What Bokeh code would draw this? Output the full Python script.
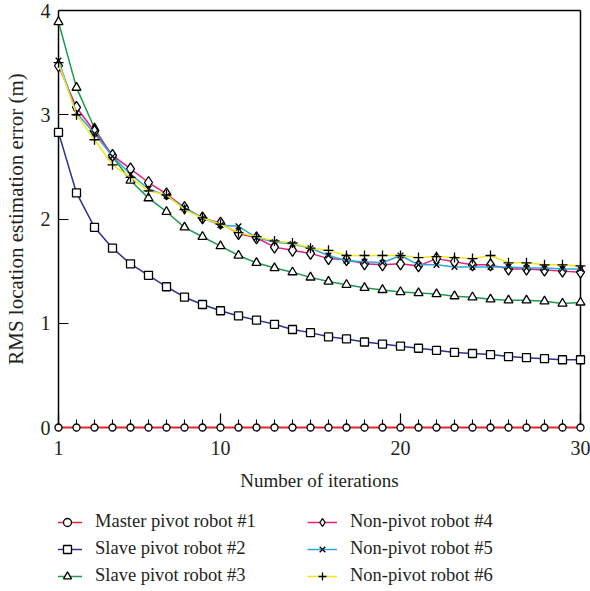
from bokeh.plotting import figure
from bokeh.models import FixedTicker, Legend, LegendItem, Range1d, LinearAxis
from bokeh.layouts import column
from bokeh.embed import file_html
from bokeh.resources import INLINE

iterations = list(range(1, 31))
master1 = [0.0, 0.0, 0.0, 0.0, 0.0, 0.0, 0.0, 0.0, 0.0, 0.0,
           0.0, 0.0, 0.0, 0.0, 0.0, 0.0, 0.0, 0.0, 0.0, 0.0,
           0.0, 0.0, 0.0, 0.0, 0.0, 0.0, 0.0, 0.0, 0.0, 0.0]
slave2 = [2.83, 2.25, 1.92, 1.72, 1.57, 1.46, 1.35, 1.25, 1.18, 1.12,
          1.07, 1.03, 0.99, 0.94, 0.91, 0.87, 0.85, 0.82, 0.80, 0.78,
          0.76, 0.74, 0.72, 0.71, 0.70, 0.68, 0.67, 0.66, 0.65, 0.65]
slave3 = [3.89, 3.26, 2.87, 2.60, 2.37, 2.20, 2.07, 1.92, 1.83, 1.74,
          1.65, 1.58, 1.53, 1.49, 1.44, 1.40, 1.37, 1.34, 1.32, 1.30,
          1.29, 1.28, 1.26, 1.25, 1.23, 1.22, 1.22, 1.21, 1.19, 1.20]
nonpivot4 = [3.47, 3.07, 2.84, 2.61, 2.48, 2.35, 2.24, 2.11, 2.01, 1.96,
             1.86, 1.82, 1.73, 1.70, 1.67, 1.62, 1.61, 1.57, 1.56, 1.57,
             1.55, 1.62, 1.59, 1.56, 1.56, 1.52, 1.52, 1.51, 1.50, 1.49]
nonpivot5 = [3.52, 3.02, 2.82, 2.60, 2.43, 2.29, 2.22, 2.11, 2.01, 1.94,
             1.93, 1.82, 1.78, 1.76, 1.72, 1.65, 1.60, 1.59, 1.58, 1.65,
             1.56, 1.56, 1.54, 1.54, 1.54, 1.54, 1.53, 1.53, 1.52, 1.52]
nonpivot6 = [3.50, 3.00, 2.76, 2.52, 2.40, 2.27, 2.23, 2.09, 2.01, 1.95,
             1.87, 1.83, 1.79, 1.77, 1.72, 1.70, 1.65, 1.65, 1.65, 1.65,
             1.63, 1.64, 1.63, 1.62, 1.65, 1.58, 1.58, 1.56, 1.56, 1.55]

x_ticks = [1, 10, 20, 30]
y_ticks = [0, 1, 2, 3, 4]

series = [
    ("Master pivot robot #1", master1, "#e3262b", "circle", 7, 2.0),
    ("Slave pivot robot #2", slave2, "#2e3192", "square", 8, 1.5),
    ("Slave pivot robot #3", slave3, "#1f9a4c", "triangle", 9, 1.5),
    ("Non-pivot robot #4", nonpivot4, "#ec1c7c", "diamond", 12, 1.5),
    ("Non-pivot robot #5", nonpivot5, "#2aa8dc", "x", 8, 1.5),
    ("Non-pivot robot #6", nonpivot6, "#f4e61c", "cross", 10, 1.5),
]

FONT = "Liberation Serif"
TXT = "#231f20"

p = figure(width=590, height=500, output_backend="svg", toolbar_location=None,
           x_range=Range1d(1, 30), y_range=Range1d(0, 4),
           min_border_left=58, min_border_top=10, min_border_right=10,
           min_border_bottom=73)
p.background_fill_color = "white"
p.border_fill_color = "white"
p.outline_line_color = None
p.xgrid.visible = False
p.ygrid.visible = False

xa = p.below[0]
ya = p.left[0]

# top and right border lines as bare axes
for side in ("above", "right"):
    b = LinearAxis(ticker=FixedTicker(ticks=[], minor_ticks=[]), axis_line_color="black",
                   axis_line_width=1.5, major_label_text_font_size="0px",
                   major_tick_in=0, major_tick_out=0, minor_tick_in=0, minor_tick_out=0)
    p.add_layout(b, side)

xa.ticker = FixedTicker(ticks=x_ticks, minor_ticks=iterations)
ya.ticker = FixedTicker(ticks=y_ticks, minor_ticks=[])
for ax in (xa, ya):
    ax.axis_line_color = "black"
    ax.axis_line_width = 1.5
    ax.major_tick_line_color = "black"
    ax.major_tick_line_width = 1.2
    ax.minor_tick_line_color = "black"
    ax.minor_tick_line_width = 1.0
    ax.major_tick_out = 0
    ax.minor_tick_out = 0
    ax.major_label_text_font = FONT
    ax.major_label_text_font_size = "20px"
    ax.major_label_text_color = TXT
    ax.axis_label_text_font = FONT
    ax.axis_label_text_font_style = "normal"
    ax.axis_label_text_color = TXT
xa.axis_line_color = None
xa.axis_label_text_font_size = "19px"
ya.axis_label_text_font_size = "21px"
xa.major_tick_in = 14
xa.minor_tick_in = 8
ya.major_tick_in = 10
xa.major_label_standoff = 13
ya.major_label_standoff = 8
xa.axis_label = "Number of iterations"
ya.axis_label = "RMS location estimation error (m)"
xa.axis_label_standoff = 12
ya.axis_label_standoff = 10

for name, vals, color, marker, size, lw in series:
    p.line(iterations, vals, line_color=color, line_width=lw, level="overlay")
    p.scatter(iterations, vals, marker=marker, size=size, fill_color="white",
              line_color="black", line_width=1.3, level="overlay")

# legend panel (swatches use an off-screen dummy point so the legend glyphs render)
pl = figure(width=590, height=91, output_backend="svg", toolbar_location=None,
            x_range=Range1d(0, 1), y_range=Range1d(0, 1),
            x_axis_type=None, y_axis_type=None,
            min_border_left=0, min_border_right=0, min_border_top=0, min_border_bottom=0)
pl.outline_line_color = None
pl.background_fill_color = "white"
pl.border_fill_color = "white"

items = []
for name, vals, color, marker, size, lw in series:
    lr = pl.line([-5, -4], [-5, -5], line_color=color, line_width=1.5)
    sr = pl.scatter([-5], [-5], marker=marker, size=size, fill_color="white",
                    line_color="black", line_width=1.3)
    items.append(LegendItem(label=name, renderers=[lr, sr]))

def make_legend(its, xoff):
    return Legend(items=its, location=(xoff, 5), orientation="vertical",
                  glyph_width=30, glyph_height=20, label_height=20,
                  label_standoff=13, spacing=6, padding=0, margin=0,
                  border_line_color=None, background_fill_alpha=0,
                  label_text_font=FONT, label_text_font_size="18.5px",
                  label_text_color=TXT)

pl.add_layout(make_legend(items[:3], -6), "center")
pl.add_layout(make_legend(items[3:], 249), "center")

layout = column(p, pl, spacing=0)
open("out.html", "w").write(file_html(layout, INLINE))
